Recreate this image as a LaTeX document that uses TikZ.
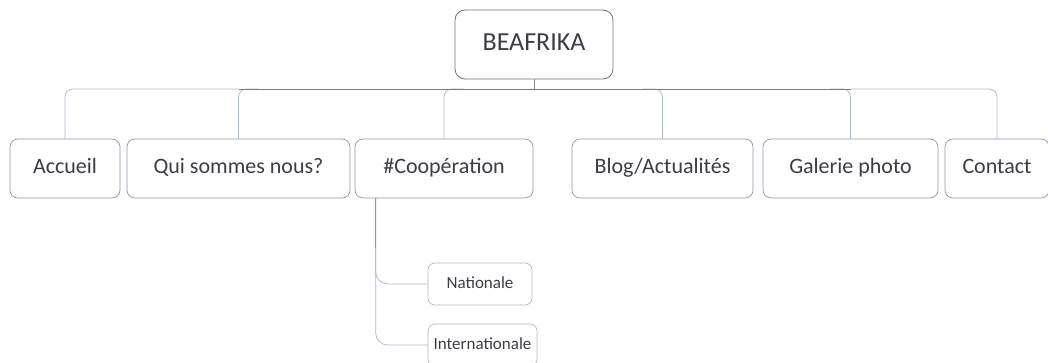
\documentclass[tikz,border=0pt]{standalone}
\usepackage{fontspec}
\setmainfont{Carlito}
\usetikzlibrary{calc}
\definecolor{boxc}{HTML}{8E97A6}
\definecolor{txt}{HTML}{3C3C44}
\definecolor{lightl}{HTML}{A9B6CE}
\definecolor{bluel}{HTML}{5A80CC}
\definecolor{rootc}{HTML}{7A6E74}
\begin{document}
\begin{tikzpicture}[x=1pt,y=-1pt,
  box/.style={draw=boxc, line width=0.7pt, rounded corners=8pt, minimum height=59pt,
    inner sep=0pt, text=txt, font=\fontsize{22}{26}\selectfont, text height=14pt, text depth=4pt},
  rootbox/.style={draw=rootc, line width=0.8pt, rounded corners=10pt, minimum width=158pt,
    minimum height=69pt, inner sep=0pt, text=txt, font=\fontsize{26}{30}\selectfont,
    text height=17pt, text depth=4pt},
  subbox/.style={draw=boxc!70, line width=0.6pt, rounded corners=7pt, minimum height=42pt,
    inner sep=0pt, text=txt, font=\fontsize{17}{20}\selectfont, text height=11pt, text depth=3pt},
  lightlink/.style={draw=lightl, line width=0.7pt},
  bluelink/.style={draw=bluel, line width=0.9pt}]
\useasboundingbox (0,0) rectangle (1048,363);
\node[rootbox] (root) at (534,44.5) {BEAFRIKA};
\node[box, minimum width=110pt] (acc) at (65,168.5) {Accueil};
\node[box, minimum width=223pt] (qui) at (238.5,168.5) {Qui sommes nous?};
\node[box, minimum width=178pt] (coop) at (444,168.5) {\#Coopération};
\node[box, minimum width=181pt] (blog) at (662.5,168.5) {Blog/Actualités};
\node[box, minimum width=175pt] (gal) at (850.5,168.5) {Galerie photo};
\node[box, minimum width=104pt] (con) at (997,168.5) {Contact};
\node[subbox, minimum width=104pt] (nat) at (480,284) {Nationale};
\node[subbox, minimum width=109pt] (int) at (482.5,345) {Internationale};
\coordinate (bus) at (0,89);
\draw[rootc!80, line width=0.8pt] (root.south) -- (root.south |- bus);
\draw[lightlink, rounded corners=8pt] (acc.north) |- (qui.north |- bus);
\draw[lightlink, rounded corners=8pt] (con.north) |- (gal.north |- bus);
\draw[lightlink, rounded corners=8pt] (qui.north) |- ($(qui.north |- bus)+(20,0)$);
\draw[lightlink, rounded corners=8pt] (coop.north) |- ($(coop.north |- bus)+(20,0)$);
\draw[lightlink, rounded corners=8pt] (blog.north) |- ($(blog.north |- bus)+(-20,0)$);
\draw[lightlink, rounded corners=8pt] (gal.north) |- ($(gal.north |- bus)+(-20,0)$);
\draw[bluelink] (qui.north |- bus) -- (gal.north |- bus);
\coordinate (cs) at ($(coop.south west)+(21,0)$);
\draw[lightlink, rounded corners=12pt] (cs) |- (nat.west);
\draw[lightlink, rounded corners=12pt] (cs) |- (int.west);
\draw[draw=bluel!80, line width=0.7pt] (cs) -- ++(0,50);
\end{tikzpicture}
\end{document}
